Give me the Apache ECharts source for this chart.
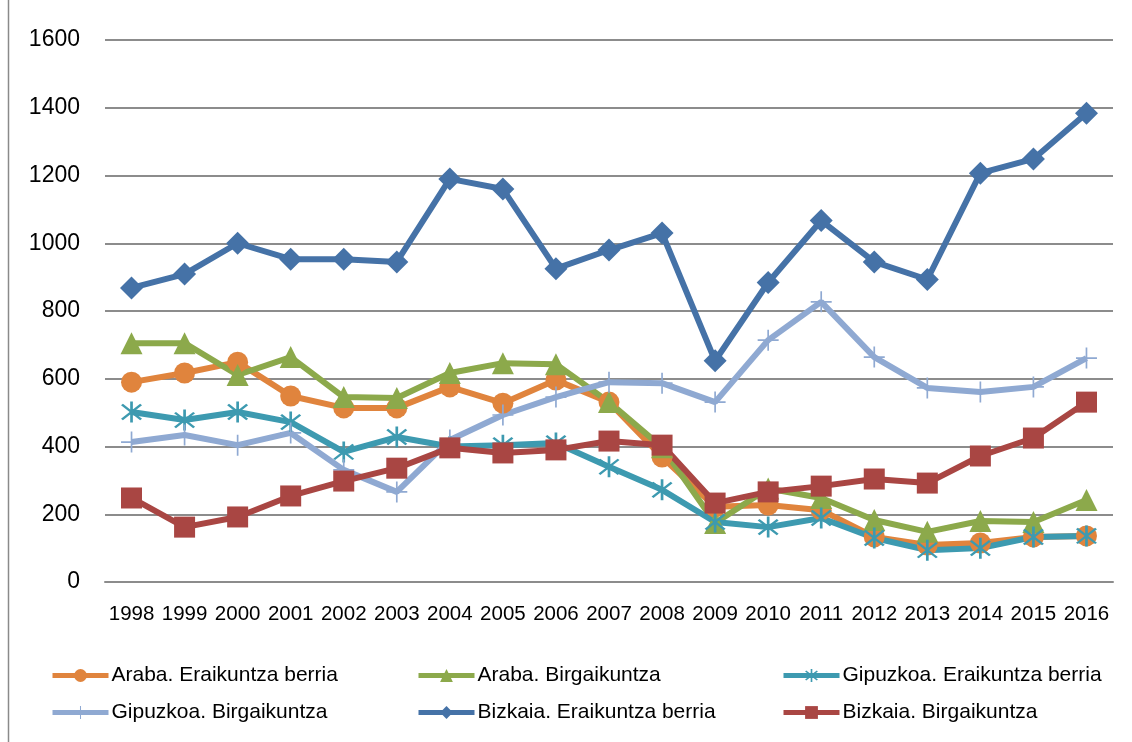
<!DOCTYPE html>
<html>
<head>
<meta charset="utf-8">
<script src="https://cdn.jsdelivr.net/npm/echarts@6/dist/echarts.min.js"></script>
<style>
  html, body { margin: 0; padding: 0; background: #fff; }
  #chart { width: 1132px; height: 742px; }
</style>
</head>
<body>
<div id="chart"></div>
<script>
// urteak
var years = ['1998', '1999', '2000', '2001', '2002', '2003', '2004', '2005', '2006', '2007',
  '2008', '2009', '2010', '2011', '2012', '2013', '2014', '2015', '2016']

var arabaBerria = [590, 617, 649, 549, 514, 514, 576, 528, 596, 531, 369, 222, 227, 212, 133, 109, 115, 133, 136]
var arabaBirg = [705, 705, 611, 664, 546, 543, 617, 646, 643, 531, 398, 174, 276, 248, 183, 148, 180, 177, 242]
var gipuzkoaBerria = [502, 478, 502, 472, 384, 428, 400, 404, 410, 340, 272, 177, 162, 189, 130, 94, 100, 133, 136]
var gipuzkoaBirg = [413, 434, 404, 440, 331, 266, 419, 493, 546, 590, 587, 531, 714, 827, 664, 573, 561, 576, 661]
var bizkaiaBerria = [868, 909, 1000, 953, 953, 945, 1190, 1160, 925, 980, 1030, 653, 884, 1067, 945, 893, 1207, 1249, 1384]
var bizkaiaBirg = [248, 162, 192, 254, 298, 336, 396, 381, 390, 416, 404, 233, 266, 283, 304, 292, 372, 425, 531]

var yTicks = { min: 0, max: 1600, interval: 200 }

var names = ['Araba. Eraikuntza berria', 'Araba. Birgaikuntza', 'Gipuzkoa. Eraikuntza berria',
  'Gipuzkoa. Birgaikuntza', 'Bizkaia. Eraikuntza berria', 'Bizkaia. Birgaikuntza']

// izarra eta gurutzea (Excel markatzaileak)
var starPath = 'path://M9,0 L11,0 L11,20 L9,20 Z M2.2,3.6 L3.6,2.2 L17.8,16.4 L16.4,17.8 Z M16.4,2.2 L17.8,3.6 L3.6,17.8 L2.2,16.4 Z'
var plusPath = 'path://M9.2,0 L10.8,0 L10.8,20 L9.2,20 Z M0,9.2 L20,9.2 L20,10.8 L0,10.8 Z'

function mkSeries(name, data, color, symbol, size) {
  return {
    name: name,
    type: 'line',
    data: data,
    symbol: symbol,
    symbolSize: size,
    showAllSymbol: true,
    lineStyle: { color: color, width: 6 },
    itemStyle: { color: color },
    emphasis: { disabled: true },
    animation: false
  }
}

var chart = echarts.init(document.getElementById('chart'))
var font = 'Liberation Sans, Arial, sans-serif'
var legendBase = {
  orient: 'vertical',
  top: 665,
  padding: 0,
  itemWidth: 56,
  itemHeight: 16,
  itemGap: 16,
  lineStyle: { width: 5 },
  textStyle: { color: '#000', fontSize: 21, fontFamily: font, lineHeight: 21, padding: [0, 0, 0, -2] }
}

var option = {
  backgroundColor: '#fff',
  graphic: [{
    type: 'line',
    shape: { x1: 8.5, y1: 0, x2: 8.5, y2: 742 },
    style: { stroke: '#8a8a8a', lineWidth: 1.5 }
  }],
  legend: [
    Object.assign({ left: 50, data: [names[0], names[3]] }, legendBase),
    Object.assign({ left: 416, data: [names[1], names[4]] }, legendBase),
    Object.assign({ left: 781, data: [names[2], names[5]] }, legendBase)
  ],
  grid: { left: 105, right: 19, top: 40, bottom: 160 },
  xAxis: {
    type: 'category',
    data: years,
    boundaryGap: true,
    axisLine: { lineStyle: { color: '#8c8c8c', width: 2 } },
    axisTick: { show: false },
    axisLabel: { color: '#000', fontSize: 20.5, fontFamily: font, margin: 22, interval: 0, hideOverlap: false }
  },
  yAxis: {
    type: 'value',
    min: yTicks.min,
    max: yTicks.max,
    interval: yTicks.interval,
    axisLine: { show: false },
    axisTick: { show: false },
    splitLine: { lineStyle: { color: '#8c8c8c', width: 2 } },
    axisLabel: {
      color: '#000', fontSize: 23, fontFamily: font, margin: 25,
      formatter: function (v) { return String(v) }
    }
  },
  series: [
    mkSeries(names[0], arabaBerria, '#E0843D', 'circle', 21),
    mkSeries(names[1], arabaBirg, '#8CA94B', 'triangle', 22),
    mkSeries(names[2], gipuzkoaBerria, '#3D9AB0', starPath, 21),
    mkSeries(names[3], gipuzkoaBirg, '#8FA9D2', plusPath, 21),
    mkSeries(names[4], bizkaiaBerria, '#4572A7', 'diamond', 23),
    mkSeries(names[5], bizkaiaBirg, '#A94643', 'rect', 21)
  ]
}
chart.setOption(option)
</script>
</body>
</html>
